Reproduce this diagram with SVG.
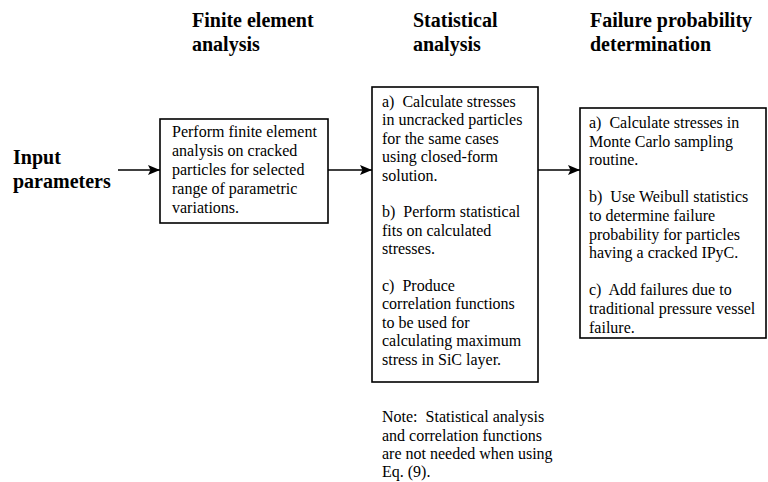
<svg xmlns="http://www.w3.org/2000/svg" width="768" height="482" viewBox="0 0 768 482">
<defs>
<style>
.t{font-family:"Liberation Serif","Times New Roman",serif;font-size:16px;fill:#000}
.h{font-family:"Liberation Serif","Times New Roman",serif;font-size:20px;font-weight:bold;fill:#000}
.in{font-family:"Liberation Serif","Times New Roman",serif;font-size:20px;font-weight:bold;fill:#000}
.box{fill:#fff;stroke:#000;stroke-width:1.6}
.c{stroke:#000;stroke-width:1.6;fill:none;marker-end:url(#ah)}
</style>
<marker id="ah" markerUnits="userSpaceOnUse" markerWidth="12" markerHeight="10" refX="12" refY="5" orient="auto">
<path d="M0,0 L12,5 L0,10 L2.5,5 Z" fill="#000"/>
</marker>
</defs>
<rect width="768" height="482" fill="#fff"/>
<g id="headers">
<text class="h" x="192" y="27">Finite element</text>
<text class="h" x="192" y="51">analysis</text>
<text class="h" x="413" y="27">Statistical</text>
<text class="h" x="413" y="51">analysis</text>
<text class="h" x="590" y="27">Failure probability</text>
<text class="h" x="590" y="51">determination</text>
</g>
<g id="input">
<text class="in" x="13" y="164">Input</text>
<text class="in" x="13" y="188">parameters</text>
</g>
<g id="connectors">
<line class="c" x1="118" y1="170" x2="160" y2="170"/>
<line class="c" x1="328" y1="170" x2="372" y2="170"/>
<line class="c" x1="538" y1="170" x2="580" y2="170"/>
</g>
<g id="fea">
<rect class="box" x="160" y="119" width="168" height="104"/>
<text class="t"><tspan x="172" y="137">Perform finite element</tspan><tspan x="172" y="156">analysis on cracked</tspan><tspan x="172" y="175">particles for selected</tspan><tspan x="172" y="194">range of parametric</tspan><tspan x="172" y="213">variations.</tspan></text>
</g>
<g id="stat">
<rect class="box" x="372" y="87" width="166" height="295"/>
<text class="t"><tspan x="382" y="107">a)&#160; Calculate stresses</tspan><tspan x="382" y="125.4">in uncracked particles</tspan><tspan x="382" y="143.8">for the same cases</tspan><tspan x="382" y="162.2">using closed-form</tspan><tspan x="382" y="180.6">solution.</tspan><tspan x="382" y="217.4">b)&#160; Perform statistical</tspan><tspan x="382" y="235.8">fits on calculated</tspan><tspan x="382" y="254.2">stresses.</tspan><tspan x="382" y="291">c)&#160; Produce</tspan><tspan x="382" y="309.4">correlation functions</tspan><tspan x="382" y="327.8">to be used for</tspan><tspan x="382" y="346.2">calculating maximum</tspan><tspan x="382" y="364.6">stress in SiC layer.</tspan></text>
</g>
<g id="failure">
<rect class="box" x="580" y="108" width="186" height="230"/>
<text class="t"><tspan x="589" y="128">a)&#160; Calculate stresses in</tspan><tspan x="589" y="146.6">Monte Carlo sampling</tspan><tspan x="589" y="165.2">routine.</tspan><tspan x="589" y="202.4">b)&#160; Use Weibull statistics</tspan><tspan x="589" y="221">to determine failure</tspan><tspan x="589" y="239.6">probability for particles</tspan><tspan x="589" y="258.2">having a cracked IPyC.</tspan><tspan x="589" y="295.4">c)&#160; Add failures due to</tspan><tspan x="589" y="314">traditional pressure vessel</tspan><tspan x="589" y="332.6">failure.</tspan></text>
</g>
<g id="note">
<text class="t"><tspan x="382" y="422">Note:&#160; Statistical analysis</tspan><tspan x="382" y="440.5">and correlation functions</tspan><tspan x="382" y="459">are not needed when using</tspan><tspan x="382" y="477">Eq. (9).</tspan></text>
</g>
</svg>
